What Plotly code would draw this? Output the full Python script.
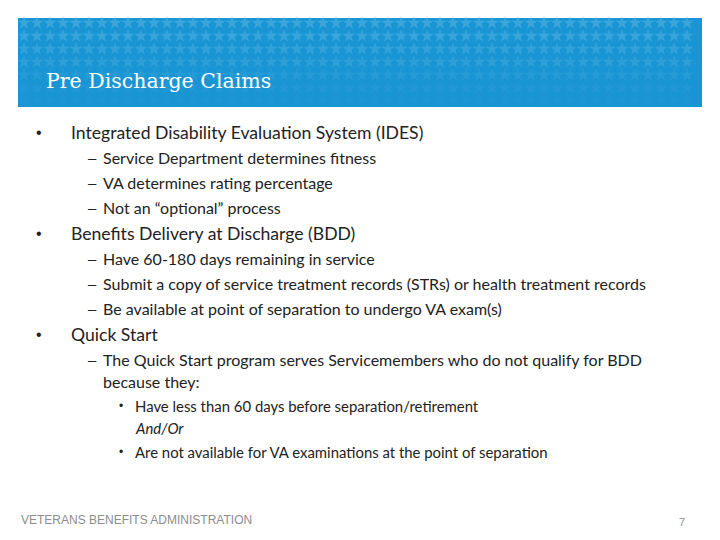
import plotly.graph_objects as go

title = "Pre Discharge Claims"
level1 = [
    ("Integrated Disability Evaluation System (IDES)", 132),
    ("Benefits Delivery at Discharge (BDD)", 233),
    ("Quick Start", 334),
]
level2 = [
    ("Service Department determines fitness", 157),
    ("VA determines rating percentage", 182),
    ("Not an “optional” process", 207),
    ("Have 60-180 days remaining in service", 258),
    ("Submit a copy of service treatment records (STRs) or health treatment records", 283),
    ("Be available at point of separation to undergo VA exam(s)", 308),
    ("The Quick Start program serves Servicemembers who do not qualify for BDD", 359),
]
level2_cont = [("because they:", 381)]
level3 = [
    ("Have less than 60 days before separation/retirement", 406),
    ("Are not available for VA examinations at the point of separation", 452),
]
level3_cont = [("<i>And/Or</i>", 428)]
footer = "VETERANS BENEFITS ADMINISTRATION"
page_no = "7"

BODY = "Lato, Open Sans, sans-serif"
TXT = "#222222"

fig = go.Figure()

# decorative star pattern in banner
sx, sy, sop = [], [], []
rows = [23, 36, 49, 62, 75, 88, 100]
alphas = [0.5, 0.45, 0.38, 0.3, 0.2, 0.12, 0.06]
for r, a in zip(rows, alphas):
    x = 24
    while x < 700:
        sx.append(x); sy.append(r); sop.append(a)
        x += 13
fig.add_trace(go.Scatter(
    x=sx, y=sy, mode="markers", hoverinfo="skip",
    marker=dict(symbol="star", size=10, color="#5ab8e6", opacity=sop, line=dict(width=0)),
))

fig.add_shape(type="rect", x0=18, x1=702, y0=18, y1=107, fillcolor="#1a95d3",
              line=dict(width=0), layer="below")

ann = []
ann.append(dict(x=44, y=81, text=title, font=dict(family="DejaVu Serif, Liberation Serif, serif", size=20.5, color="white")))
for t, y in level1:
    ann.append(dict(x=34, y=y, text="•", font=dict(family="Liberation Sans, Arial", size=16, color=TXT)))
    ann.append(dict(x=69, y=y, text=t, font=dict(family=BODY, size=17.6, color=TXT)))
for t, y in level2:
    ann.append(dict(x=86, y=y, text="–", font=dict(family="Liberation Sans, Arial", size=15, color=TXT)))
    ann.append(dict(x=101, y=y, text=t, font=dict(family=BODY, size=16, color=TXT)))
for t, y in level2_cont:
    ann.append(dict(x=101, y=y, text=t, font=dict(family=BODY, size=16, color=TXT)))
for t, y in level3:
    ann.append(dict(x=117, y=y, text="•", font=dict(family="Liberation Sans, Arial", size=12, color=TXT)))
    ann.append(dict(x=133, y=y, text=t, font=dict(family=BODY, size=14.9, color=TXT)))
for t, y in level3_cont:
    ann.append(dict(x=133, y=y, text=t, font=dict(family=BODY, size=14.9, color=TXT)))
ann.append(dict(x=19, y=520, text=footer, font=dict(family="Liberation Sans, Arial, sans-serif", size=12, color="#8c8c8c")))
ann.append(dict(x=677, y=522, text=page_no, font=dict(family="Liberation Sans, Arial, sans-serif", size=11, color="#8c8c8c")))

for a in ann:
    a.update(xref="x", yref="y", xanchor="left", yanchor="middle", showarrow=False)
    fig.add_annotation(**a)

fig.update_layout(
    width=720, height=540, margin=dict(l=0, r=0, t=0, b=0),
    paper_bgcolor="white", plot_bgcolor="white", showlegend=False,
    xaxis=dict(range=[0, 720], visible=False, fixedrange=True),
    yaxis=dict(range=[540, 0], visible=False, fixedrange=True),
)
fig.write_html("out.html", config={"displayModeBar": False},
               post_script="document.body.style.margin='0';")
